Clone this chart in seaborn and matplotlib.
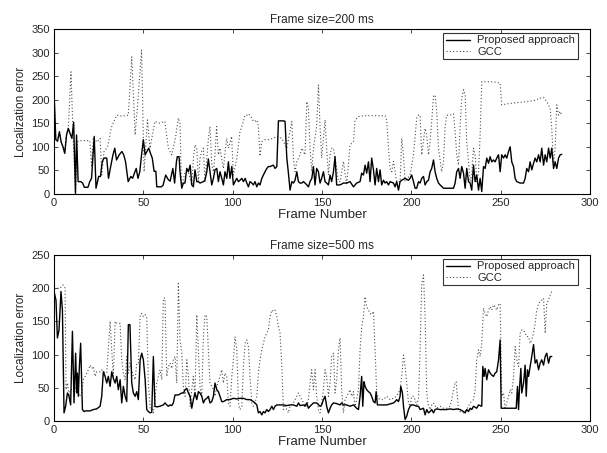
import numpy as np
import pandas as pd
import matplotlib
matplotlib.use('Agg')
import matplotlib.pyplot as plt
import seaborn as sns

# Frame size = 200 ms : proposed approach (frame, error)
prop200_frame = [0, 1, 2, 3, 4, 5, 6, 7, 8, 9, 10, 11, 12, 12.6, 13.5, 15, 16, 17, 19, 20, 21, 22.5, 23.5, 25, 26, 27, 28, 29.5,
                 30.5, 31.5, 33, 34, 35, 36.5, 38, 39, 40, 41.5, 43, 44, 45, 46, 47, 48, 49, 50, 51, 52, 53, 54, 55, 56, 57,
                 57.5, 60, 61, 62.5, 64, 65, 66.5, 67.5, 68.5, 69, 70, 70.5, 71.5, 72.4,
                 73.3, 74.3, 75.2, 76.2, 77.1, 78, 78.9, 79.9, 80.8, 81.7, 83.6, 84.5, 85.5, 86.4, 87.3, 88.3, 89.2, 90.1,
                 91.1, 92, 92.9, 93.9, 94.8, 95.7, 96.7, 97.6, 98.5, 99.5, 100.4, 101.3, 102.3, 103.2, 104.1, 105.1, 106,
                 107, 107.9, 108.8, 109.7, 110.7, 111.6, 112.5, 113.5, 114.4, 115.3, 116.3, 117.2, 118.1, 119.1, 120, 120.9,
                 122.8, 123.7, 124.7, 125.6, 128.4, 129.3, 130.3, 131.2, 132.1, 133.1, 134, 134.9, 135.9, 136.8, 137.7,
                 138.7, 139.6, 140.5, 141.5, 142.4, 143.3, 144.3,
                 145.2, 146.1, 147, 148, 148.9, 149.8, 150.8, 151.7, 152.6, 153.6, 154.5, 155.4, 156.4, 157.3, 158.2, 160.1,
                 162, 163.8, 165.7, 167.6, 169.4, 171.3, 172.2, 173.2, 174.1, 175, 176, 176.9, 177.8, 178.8, 179.7, 180.6,
                 181.6, 182.5, 183.4, 184.4, 185.3, 186.2, 187.2, 188.1, 190, 190.9, 191.8, 192.8, 193.7, 194.6, 196.5,
                 198.4, 199.3, 200.2, 201.2, 202.1, 203, 204, 204.9, 205.8, 206.8, 207.7, 208.6, 209.6, 210.5, 211.4, 212.4,
                 213.3, 214.2, 215.2, 216.1,
                 218, 219.8, 221.7, 223.6, 224.5, 225.4, 226.4, 227.3, 228.2, 229.2, 230.1, 231, 232, 232.9, 233.8, 234.8,
                 235.7, 236.6, 237.6, 238.5, 239.4, 240.4, 241.3, 242.2, 243.2, 244.1, 245, 246, 246.9, 247.8, 248.8, 249.7,
                 250.6, 251.6, 252.5, 253.4, 254.4, 255.3, 256.2, 257.2, 258.1, 259, 260.9, 262.8, 263.7, 264.6, 265.6,
                 266.5, 267.4, 268.4, 269.3, 270.2, 271.2, 272.1, 273, 274, 274.9, 275.8, 276.8, 277.7, 278.6, 279.6, 280.5,
                 281.4, 282.4, 283.3, 284.2]
prop200_err = [217, 115, 112, 132, 110, 100, 86, 125, 139, 128, 118, 152, 1, 125, 26, 26, 23, 14, 14, 26, 33, 122, 12, 37, 37, 69,
               76, 76, 33, 54, 83, 97, 72, 83, 90, 83, 69, 26, 37, 33, 44, 54, 33, 47, 83, 115, 83, 90, 97, 86, 76, 48, 48,
               15, 15, 18, 40, 30, 27, 54, 23, 68, 79, 79, 48, 12, 23,
               23, 54, 47, 61, 19, 15, 51, 26, 26, 23, 26, 29, 47, 74, 47, 19, 33, 51,
               54, 26, 47, 33, 19, 47, 33, 68, 33, 58, 19, 26, 33, 26, 29, 33, 26,
               33, 23, 15, 26, 23, 19, 26, 15, 23, 19, 33, 40, 47, 54, 58, 58,
               61, 54, 58, 155, 155, 154, 76, 44, 8, 26, 23, 29, 47, 26, 23,
               23, 26, 23, 19, 15, 26, 33,
               58, 19, 54, 47, 23, 33, 47, 26, 23, 19, 40, 26, 47, 79, 19, 19,
               23, 23, 26, 15, 23, 26, 44, 40, 61, 44, 68, 26, 76, 51, 19, 54,
               26, 51, 19, 29, 23, 26, 19, 26, 23, 15, 26, 8, 26, 29, 33,
               29, 33, 40, 26, 12, 12, 26, 23, 33, 37, 19, 26, 29, 47, 54, 72,
               47, 33, 23, 19,
               12, 12, 12, 12, 23, 47, 54, 33, 58, 44, 12, 54, 26, 23, 8, 61,
               26, 40, 8, 33, 5, 58, 54, 76, 65, 79, 68, 72, 68, 76, 83, 47,
               83, 76, 83, 76, 90, 100, 68, 58, 33, 26, 23, 23, 33, 54, 47,
               68, 51, 65, 76, 68, 83, 68, 97, 61, 83, 68, 97, 76, 97, 54, 68,
               54, 76, 83, 84]

# Frame size = 200 ms : GCC
gcc200_frame = [0, 1, 2, 3, 4, 5, 6, 7, 8, 9.5, 10.8, 12, 13, 14, 20, 21, 22, 24, 25.8, 26.7, 28, 30, 32, 35, 38, 41.6, 43.5,
                45.4, 47, 49,
                50.4, 52.3, 53.7, 56.5, 59, 62, 64, 65.9, 68, 69.6, 70.5, 71.4, 73.3, 75.2, 77.1, 78, 78.9, 79.9, 80.8, 81.7,
                82.7, 83.6, 84.5, 86.4, 87.3, 88.3, 89.2, 90.1, 91, 92, 92.9, 94.8, 96.6, 97.6, 99.4, 100.4, 102.3, 104.1,
                106, 106.9, 107.9, 108.7, 109.7, 110.7, 111.6, 112.5, 113.5, 114.4, 115.3, 116.3, 118.1, 120, 122.8, 124.6,
                127.5, 130.3, 133.1, 134, 134.9, 135.9, 137.7, 138.7, 140.5, 141.5, 142.4, 143.3, 144.3, 145.2,
                147, 148, 148.9, 149.8, 151.7, 152.6, 153.6, 154.5, 155.4, 156.4, 157.3, 159.2, 160.1, 162, 163.8, 165.7,
                167.6, 168.5, 170.4, 173.2, 176.9, 180.6, 185.3, 186.2, 187.2, 188.1, 189, 190, 191.8, 193.7, 194.6, 195.6,
                196.5, 199.3, 201.2, 203, 204, 204.9, 205.8, 207.7, 208.6, 209.6, 210.5, 211.4, 212.4, 213.3, 214.2, 215.2,
                217, 218, 218.9, 219.8, 221.7, 223.6, 224.5, 225.4, 226.4, 227.3, 228.2, 229.2, 230.1, 231, 232, 232.9,
                233.8, 234.8, 235.7, 236.6, 237.6, 238.5, 239.4, 242.2, 246, 249.7, 250.6, 253.4, 257.2, 262.8, 268.4,
                272.1, 274, 275.8, 277.7, 278.6, 279.6, 280.5, 281.4, 282.4, 283.3, 284.2]
gcc200_err = [217, 115, 112, 132, 110, 100, 86, 125, 139, 259, 111, 2, 110, 113, 113, 60, 120, 110, 118, 40, 90, 100, 140, 167,
              165, 167, 291, 125, 200, 305, 47, 157, 97, 154, 150, 154, 97, 83, 120, 161, 150, 12, 47, 47, 19, 75, 104, 97,
              26, 75, 92, 97, 26, 118, 143, 61, 47, 83, 143, 83, 97, 54, 118, 97, 122, 40, 75, 132,
              154, 167, 167, 170, 167, 161, 154, 154, 157, 143, 80, 111, 115, 115, 118, 122,
              118, 97, 154, 75, 47, 68, 83, 97, 83, 196, 182, 97, 47, 97,
              143, 231, 143, 76, 157, 97, 40, 83, 97, 97, 76, 26, 26, 69, 19, 104,
              111, 157, 164, 166, 166, 166, 166, 157, 97, 54, 47, 69, 26, 26, 118, 83,
              26, 40, 83, 161, 167, 167, 83, 139, 125, 83, 111, 154, 207, 210, 175, 97,
              47, 69, 143, 167, 167, 170, 132, 83, 61, 143, 203, 221, 210, 111, 69, 26,
              40, 97, 83, 26, 47, 125, 238, 238, 238, 235, 189, 191, 193, 195, 198,
              203, 205, 196, 182, 139, 61, 97, 189, 167, 175, 167]

# Frame size = 500 ms : proposed approach
prop500_frame = [0, 1.1, 1.9, 2.8, 3.9, 4.7, 5.6, 6.5, 7.5, 8.4, 9.3, 10.3, 11.2, 12.1, 12.7, 13.1, 13.6, 14.2, 14.9, 15.9,
                 16.8, 17.7, 20.2, 22, 23.9, 25.8, 26.7, 27.6, 28.6, 29.5, 30.4, 31.4, 32.3, 33.2, 34.2, 35.1, 36, 37, 37.9,
                 38.8, 39.8, 40.7, 41.6, 42.5, 43.5, 44.4, 45.4, 46.3, 47.2, 48.2, 49.1, 50, 51, 51.9, 52.8, 53.8, 54.7,
                 55.6, 56.5, 57.5, 59.3, 61.2, 62.1, 63.1, 64, 65, 65.9, 66.8, 67.7, 69.6, 71.5,
                 72.4, 73.4, 74.3, 75.2, 76.2, 77.1, 78, 78.9, 79.9, 80.8, 81.7, 82.7, 83.6, 84.5, 85.5, 86.4, 87.3, 88.3,
                 89.2, 90.1, 91.1, 92, 92.9, 93.9, 94.8, 96.7, 98.5, 100.4, 102.3, 104.1, 106, 107.9, 109.7, 111.6, 112.5,
                 113.5, 114.4, 115.3, 116.3, 117.2, 118.1, 119.1, 120, 120.9, 121.9, 122.8, 123.7, 124.7, 126.5, 128.4,
                 130.3, 132.1, 134, 135.9, 136.8, 137.7, 139.6, 140.5, 141.5, 142.4, 143.3,
                 145.2, 147, 148.9, 149.8, 150.8, 151.7, 152.6, 153.6, 154.5, 155.4, 156.4, 158.2, 160.1, 161, 162, 163.8,
                 165.7, 167.6, 169.4, 170.4, 171.3, 172.2, 172.8, 173.5, 174.1, 175, 176, 176.9, 177.8, 178.8, 179.7, 180.3,
                 181, 182.5, 186.2, 190, 190.9, 191.8, 192.8, 193.7, 194.1, 195, 195.6, 196.5, 197.4, 198.4, 199.3, 200.2,
                 201.2, 203, 204, 204.9, 206.8, 207.7, 208.6, 209.6, 210.5, 211.4, 212.4, 213.3, 214.2, 216.1,
                 218, 219.8, 221.7, 223.6, 225.4, 227.3, 229.2, 230.1, 231, 232, 232.9, 233.8, 234.8, 236.6, 237.6, 239.4,
                 240, 240.7, 241.3, 242.2, 243.2, 244.1, 245, 246, 246.9, 247.8, 248.8, 249.7, 250.3, 258.7, 259.4, 260,
                 260.5, 261.3, 261.8, 262.8, 263.7, 264.3, 265, 265.6, 266.5, 267.4, 268.4, 269.3, 270.2, 271.2, 272.1,
                 273, 274, 274.9, 275.8, 276.8, 277.7, 278.6]
prop500_err = [195, 182, 125, 137, 195, 167, 12, 22, 42, 37, 24, 135, 27, 102, 42, 72, 37, 82, 117, 17,
               14, 15, 15, 17, 18, 22, 37, 74, 67, 57, 67, 52, 74, 64, 57, 67, 47, 62, 27,
               52, 37, 29, 145, 145, 57, 42, 37, 44, 32, 92, 102, 92, 62, 17, 14, 12, 13,
               97, 22, 21, 22, 24, 27, 24, 22, 24, 23, 27, 39, 39, 42,
               42, 47, 49, 42, 37, 19, 32, 42, 32, 44, 42, 37, 27, 32, 34, 37, 27, 29,
               37, 57, 47, 44, 37, 29, 29, 32, 32, 34, 33, 34, 34, 32, 32, 29, 27,
               24, 12, 14, 9, 14, 12, 17, 14, 17, 22, 17, 22, 24, 24, 24,
               23, 24, 24, 22, 27, 23, 24, 22, 27, 19, 22,
               27, 27, 22, 24, 32, 37, 22, 12, 19, 24, 27, 26, 24, 27, 24, 24,
               22, 24, 19, 17, 37, 67, 22, 59, 52, 47, 44, 42, 37, 29, 27, 44,
               24, 24, 24, 27, 29, 32, 29, 37, 52, 42, 22, 2, 7, 17, 22, 24,
               24, 22, 22, 17, 19, 9, 17, 12, 14, 17, 12, 17, 18, 17,
               17, 17, 18, 17, 18, 17, 14, 12, 17, 14, 19, 17, 22, 19, 24, 22,
               82, 67, 79, 62, 77, 72, 69, 67, 72, 74, 92, 122, 19, 19, 52, 17,
               47, 79, 42, 57, 84, 37, 77, 67, 82, 97, 115, 87, 92, 77, 87,
               92, 84, 97, 102, 87, 97, 97]

# Frame size = 500 ms : GCC
gcc500_frame = [0, 1.5, 3.4, 5, 6.2, 6.7, 7.5, 8.4, 9, 10.4, 11.4, 12.7, 14.2, 15.5, 16.4, 17.4, 18.3, 19.2, 20.2, 21.1, 22,
                23, 23.9, 25.8, 26.7, 27.6, 29.5, 31.4, 32.3, 33.2, 34.2, 35.1, 36, 37, 37.9, 38.8, 39.8, 40.7, 41.6, 42.5,
                43.5, 44.4, 45.4, 46.3, 47.2, 48.2, 49.1, 50, 51, 51.9, 52.8, 53.8, 54.7, 55.6, 57.5, 58.4, 59.3, 60.3, 61.2,
                62.1, 63.1, 64, 65, 65.9, 66.8, 67.7, 68.7, 69.6, 70.5, 71.5, 72.4,
                73.4, 74.3, 75.2, 76.2, 77.1, 78, 78.9, 79.9, 80.8, 81.7, 82.7, 83.6, 84.5, 85.5, 86.4, 87.3, 89.2, 90.1,
                91.1, 92.9, 93.9, 94.8, 95.7, 96.7, 97.6, 98.5, 99.5, 100.4, 101.3, 102.3, 103.2, 104.1, 105.1, 106, 107,
                107.9, 108.8, 109.7, 110.7, 111.6, 112.5, 113.5, 114.4, 115.3, 116.3, 117.2, 118.1, 119.1, 120, 120.9,
                121.9, 122.8, 123.7, 124.7, 125.6, 126.5, 127.5, 128.4, 129.3, 130.3, 131.2, 132.1, 134, 135.9, 136.8,
                137.7, 139.6, 141.5, 142.4, 143.3,
                144.2, 145.2, 146.1, 147, 148, 148.9, 149.8, 150.8, 151.7, 152.6, 153.6, 154.5, 155.4, 156.4, 157.3, 158.2,
                159.2, 160.1, 161, 162, 162.9, 163.8, 164.8, 165.7, 166.6, 167.6, 168.5, 169.4, 170.4, 171.3, 172.2, 173.2,
                174.1, 175, 176, 176.9, 177.8, 178.8, 179.7, 180.6, 181.6, 182.5, 184.4, 186.2, 188.1, 190, 191.8, 193.7,
                194.6, 195.6, 196.5, 197.4, 198.4, 199.3, 200.2, 201.2, 202.1, 203, 204, 204.9, 205.8, 206.8, 207.7, 208.6,
                209.6, 210.5, 211.4, 212.4, 214.2, 216.1,
                218, 219.8, 221.7, 222.6, 223.6, 224.5, 225.1, 225.8, 226.4, 227.3, 229.2, 231, 232.9, 234.8, 235.7, 236.6,
                237.6, 238.5, 239.4, 240.4, 241.3, 242.2, 243.2, 244.1, 245, 246, 246.9, 247.8, 248.8, 249.7, 250.6, 251.6,
                252.5, 253.4, 254.4, 255.3, 256.2, 257.2, 258.1, 259, 260, 260.9, 261.8, 262.8, 263.7, 264.6, 265.6, 266.5,
                267.4, 268.4, 269.3, 270.2, 271.2, 272.1, 273, 274, 274.9, 275.8, 276.8, 277.7, 278.6]
gcc500_err = [200, 200, 200, 205, 200, 47, 57, 37, 47, 47, 42, 57, 37, 42, 62, 67, 72, 77, 84, 79, 82,
              67, 74, 74, 77, 74, 72, 150, 107, 67, 150, 147, 147, 147, 92, 72, 62, 97, 72, 87,
              77, 67, 62, 87, 87, 160, 162, 157, 160, 155, 57, 19, 19, 12, 57, 67, 77, 62, 185,
              185, 67, 82, 87, 79, 92, 97, 57, 207, 122, 102, 52,
              37, 92, 67, 22, 47, 67, 37, 160, 107, 52, 37, 127, 160, 157, 107, 57, 47, 37,
              52, 67, 77, 57, 72, 67, 27, 22, 67, 92, 127, 107, 27, 17, 22, 82, 117,
              122, 112, 67, 27, 22, 27, 37, 72, 92, 107, 117, 127, 132, 137, 157,
              167, 165, 167, 157, 142, 132, 82, 17, 22, 17, 12, 22, 27, 37, 42,
              37, 27, 22, 32, 57,
              77, 47, 77, 37, 17, 12, 27, 47, 77, 67, 37, 57, 97, 102, 42, 62,
              107, 125, 47, 12, 32, 37, 42, 47, 37, 44, 22, 32, 47, 107, 142, 157,
              187, 172, 167, 162, 160, 165, 107, 42, 34, 32, 32, 37, 32, 34, 37, 47,
              67, 99, 82, 57, 27, 22, 37, 37, 32, 24, 34, 107, 207, 220, 157, 42,
              22, 17, 24, 27, 19, 22,
              19, 19, 22, 32, 47, 57, 59, 37, 17, 14, 12, 17, 27, 32, 47, 92,
              107, 97, 117, 170, 162, 157, 167, 172, 167, 175, 172, 167, 175, 177, 37, 42,
              17, 27, 37, 47, 42, 67, 112, 92, 82, 132, 137, 137, 132, 127, 127, 117,
              122, 132, 147, 167, 177, 180, 182, 185, 132, 177, 182, 190, 195]

panels = [
    ('Frame size=200 ms', prop200_frame, prop200_err, gcc200_frame, gcc200_err, 350),
    ('Frame size=500 ms', prop500_frame, prop500_err, gcc500_frame, gcc500_err, 250),
]

sns.set_style('ticks')
plt.rcParams['font.family'] = ['Liberation Sans', 'DejaVu Sans']

fig = plt.figure(figsize=(6.07, 4.53), dpi=100)
axes = [fig.add_axes([0.089, 0.572, 0.883, 0.364]),
        fig.add_axes([0.089, 0.071, 0.883, 0.366])]

for ax, (title, pf, pe, gf, ge, ymax) in zip(axes, panels):
    prop = pd.DataFrame({'frame': pf, 'err': pe})
    gcc = pd.DataFrame({'frame': gf, 'err': ge})
    # GCC drawn first so the solid line sits on top where they coincide
    sns.lineplot(data=gcc, x='frame', y='err', ax=ax, color='0.3', linewidth=0.8,
                 linestyle=(0, (1, 2)), estimator=None, sort=False, label='GCC', zorder=2)
    sns.lineplot(data=prop, x='frame', y='err', ax=ax, color='black', linewidth=1.0,
                 estimator=None, sort=False, label='Proposed approach', zorder=3)
    ax.set_xlim(0, 300)
    ax.set_ylim(0, ymax)
    ax.set_xticks(np.arange(0, 301, 50))
    ax.set_yticks(np.arange(0, ymax + 1, 50))
    ax.tick_params(direction='in', top=True, right=True, length=3, width=0.6, labelsize=8, pad=3)
    for sp in ax.spines.values():
        sp.set_linewidth(0.8)
        sp.set_color('black')
    ax.set_title(title, fontsize=8.5, pad=4)
    ax.set_xlabel('Frame Number', fontsize=9.5, labelpad=1)
    ax.set_ylabel('Localization error', fontsize=8.5, labelpad=3)
    handles, labels = ax.get_legend_handles_labels()
    order = [labels.index('Proposed approach'), labels.index('GCC')]
    leg = ax.legend([handles[i] for i in order], [labels[i] for i in order],
                    loc='upper right', bbox_to_anchor=(0.977, 0.978), fontsize=8, frameon=True,
                    fancybox=False, borderpad=0.25, handlelength=2.2, labelspacing=0.1,
                    borderaxespad=0, handletextpad=0.6)
    leg.get_frame().set_edgecolor('black')
    leg.get_frame().set_linewidth(0.8)

fig.savefig('out.png', dpi=100)
